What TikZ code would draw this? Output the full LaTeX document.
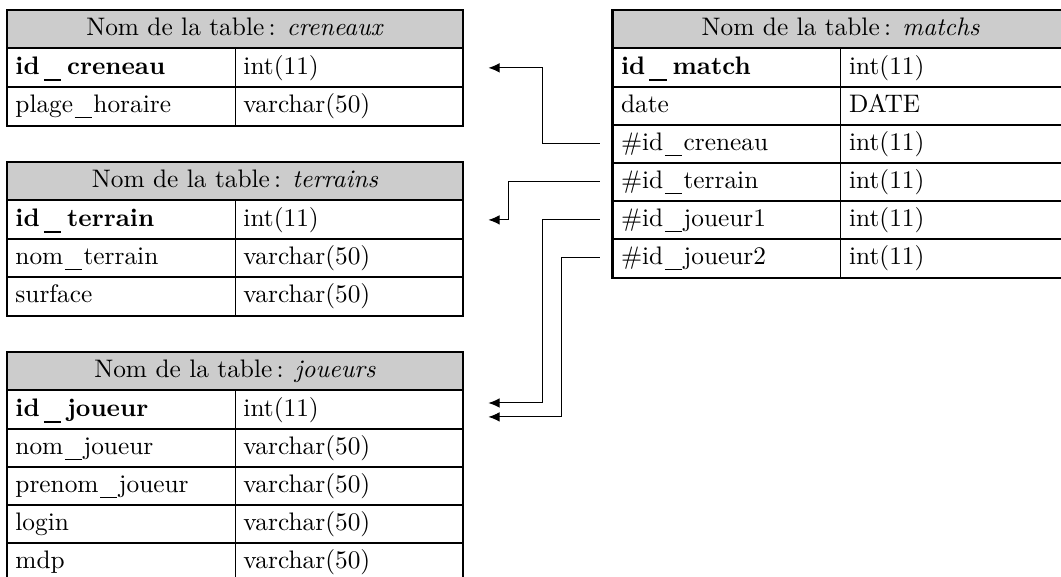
\documentclass[tikz,border=0pt]{standalone}
\usepackage{tikz}
\usetikzlibrary{arrows.meta}

\newcommand{\undsc}{\kern0.6pt\rule[-2.4pt]{6.8pt}{0.45pt}\kern0.6pt}
\newcommand{\undscb}{\kern1.6pt\rule[-2.6pt]{6.8pt}{0.6pt}\kern2.4pt}

\begin{document}
\begin{tikzpicture}[
    x=1pt, y=1pt,
    tablehead/.style={draw, thin, fill=black!20, anchor=north west, inner sep=0pt, outer sep=0pt,
        minimum width=180pt, minimum height=15pt, text height=7pt, text depth=2pt},
    cellbox/.style={draw, thin, anchor=north west, inner sep=3.33pt, outer sep=0pt,
        text width=83.34pt, align=left, minimum height=15pt, text height=7pt, text depth=2pt},
    border/.style={line width=0.9pt},
    >={Latex[length=4.4pt,width=3.8pt]}, thin
]
\useasboundingbox (-2.76,3.95) rectangle (415.94,-223.75);
\clip (-2.76,3.95) rectangle (415.94,-223.75);

% table creneaux
\node[tablehead] (creH) at (0,0) {Nom de la table\,: \textit{creneaux}};
\node[cellbox] (cre1a) at (0,-15) {\textbf{id\undscb creneau}};
\node[cellbox] (cre1b) at (90,-15) {int(11)};
\node[cellbox] (cre2a) at (0,-30) {plage\undsc horaire};
\node[cellbox] (cre2b) at (90,-30) {varchar(50)};
\draw[border] (creH.north west) rectangle (cre2b.south east);
\draw[border] (creH.south west) -- (creH.south east);

% table terrains
\node[tablehead] (terH) at (0,-60) {Nom de la table\,: \textit{terrains}};
\node[cellbox] (ter5a) at (0,-75) {\textbf{id\undscb terrain}};
\node[cellbox] (ter5b) at (90,-75) {int(11)};
\node[cellbox] (ter6a) at (0,-90) {nom\undsc terrain};
\node[cellbox] (ter6b) at (90,-90) {varchar(50)};
\node[cellbox] (ter7a) at (0,-105) {surface};
\node[cellbox] (ter7b) at (90,-105) {varchar(50)};
\draw[border] (terH.north west) rectangle (ter7b.south east);
\draw[border] (terH.south west) -- (terH.south east);

% table joueurs
\node[tablehead] (jouH) at (0,-135) {Nom de la table\,: \textit{joueurs}};
\node[cellbox] (jou10a) at (0,-150) {\textbf{id\undscb joueur}};
\node[cellbox] (jou10b) at (90,-150) {int(11)};
\node[cellbox] (jou11a) at (0,-165) {nom\undsc joueur};
\node[cellbox] (jou11b) at (90,-165) {varchar(50)};
\node[cellbox] (jou12a) at (0,-180) {prenom\undsc joueur};
\node[cellbox] (jou12b) at (90,-180) {varchar(50)};
\node[cellbox] (jou13a) at (0,-195) {login};
\node[cellbox] (jou13b) at (90,-195) {varchar(50)};
\node[cellbox] (jou14a) at (0,-210) {mdp};
\node[cellbox] (jou14b) at (90,-210) {varchar(50)};
\draw[border] (jouH.north west) rectangle (jou14b.south east);
\draw[border] (jouH.south west) -- (jouH.south east);

% table matchs
\node[tablehead] (matH) at (239,0) {Nom de la table\,: \textit{matchs}};
\node[cellbox] (mat1a) at (239,-15) {\textbf{id\undscb match}};
\node[cellbox] (mat1b) at (329,-15) {int(11)};
\node[cellbox] (mat2a) at (239,-30) {date};
\node[cellbox] (mat2b) at (329,-30) {DATE};
\node[cellbox] (mat3a) at (239,-45) {\#id\undsc creneau};
\node[cellbox] (mat3b) at (329,-45) {int(11)};
\node[cellbox] (mat4a) at (239,-60) {\#id\undsc terrain};
\node[cellbox] (mat4b) at (329,-60) {int(11)};
\node[cellbox] (mat5a) at (239,-75) {\#id\undsc joueur1};
\node[cellbox] (mat5b) at (329,-75) {int(11)};
\node[cellbox] (mat6a) at (239,-90) {\#id\undsc joueur2};
\node[cellbox] (mat6b) at (329,-90) {int(11)};
\draw[border] (matH.north west) rectangle (mat6b.south east);
\draw[border] (matH.south west) -- (matH.south east);

% cles etrangeres
\draw[->, shorten <=5pt, shorten >=10pt] (mat3a.west) -- ++(-27.5,0) |- (cre1b.east);
\draw[->, shorten <=5pt, shorten >=10pt] (mat4a.west) -- ++(-41,0) |- (ter5b.east);
\draw[->, shorten <=5pt, shorten >=10pt] (mat5a.west) -- ++(-27.5,0) |- ([yshift=2.75pt]jou10b.east);
\draw[->, shorten <=5pt, shorten >=10pt] (mat6a.west) -- ++(-20,0) |- ([yshift=-2.75pt]jou10b.east);
\end{tikzpicture}
\end{document}
